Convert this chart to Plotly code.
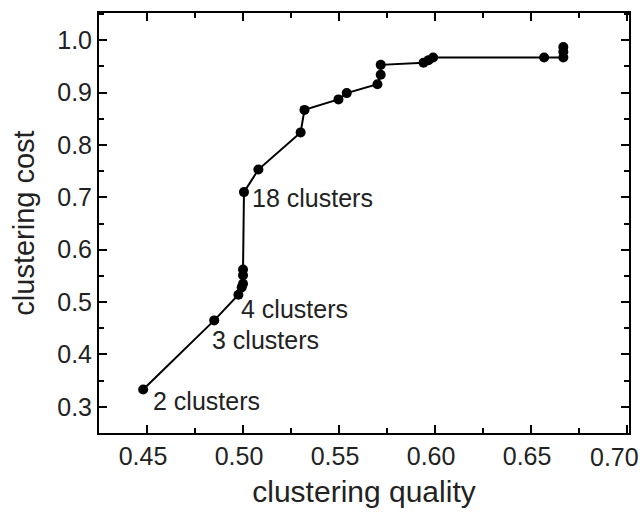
import plotly.graph_objects as go

quality = [0.448, 0.485, 0.4976, 0.4993, 0.500, 0.500, 0.500, 0.5005, 0.508, 0.530, 0.532,
           0.5497, 0.554, 0.570, 0.5717, 0.5717, 0.594, 0.5966, 0.599, 0.6568, 0.6668, 0.6668, 0.6668]
cost = [0.333, 0.465, 0.514, 0.528, 0.535, 0.551, 0.562, 0.710, 0.753, 0.824, 0.867,
        0.887, 0.899, 0.916, 0.934, 0.953, 0.957, 0.962, 0.967, 0.967, 0.967, 0.978, 0.987]

x_tick_vals = [0.45, 0.50, 0.55, 0.60, 0.65, 0.70]
x_tick_text = ["0.45", "0.50", "0.55", "0.60", "0.65", "0.70"]

labels = ["2 clusters", "3 clusters", "4 clusters", "18 clusters"]
label_idx = [0, 1, 2, 7]
label_shift = [(8, -11), (-4, -20), (1, -14), (6, -6)]

FONT = "Liberation Sans, Arial, sans-serif"
fig = go.Figure()
fig.add_trace(go.Scatter(x=quality, y=cost, mode="lines+markers",
                         line=dict(color="black", width=2),
                         marker=dict(color="black", size=10),
                         showlegend=False, hoverinfo="skip"))

for lab, i, (dx, dy) in zip(labels, label_idx, label_shift):
    fig.add_annotation(x=quality[i], y=cost[i], text=lab, showarrow=False,
                       xanchor="left", yanchor="middle", xshift=dx, yshift=dy,
                       font=dict(family=FONT, size=25, color="#222"))

# the last x tick label sits against the right edge of the figure, so it is
# drawn right-aligned at its tick so that it stays inside the picture
shown_text = x_tick_text[:-1] + [""]
fig.add_annotation(x=x_tick_vals[-1], xref="x", y=0, yref="paper", text=x_tick_text[-1],
                   showarrow=False, xanchor="right", yanchor="middle", xshift=14, yshift=-24,
                   font=dict(family=FONT, size=25, color="#222"))

axis_common = dict(showline=True, linecolor="black", linewidth=2, mirror="ticks",
                   ticks="inside", ticklen=8, tickwidth=2, tickcolor="black",
                   showgrid=False, zeroline=False,
                   tickfont=dict(family=FONT, size=25, color="#222"),
                   minor=dict(ticks="inside", ticklen=5, tickwidth=2, tickcolor="black", showgrid=False))

fig.update_xaxes(range=[0.425, 0.701], tickmode="array", tickvals=x_tick_vals, ticktext=shown_text,
                 minor_dtick=0.025, minor_tick0=0.425, ticklabelshift=-4,
                 title=dict(text="clustering quality", font=dict(family=FONT, size=30, color="#222"), standoff=12),
                 **axis_common)
fig.update_yaxes(range=[0.25, 1.052], tick0=0.3, dtick=0.1, tickformat=".1f",
                 minor_dtick=0.05,
                 title=dict(text="clustering cost", font=dict(family=FONT, size=29, color="#222"), standoff=14),
                 **axis_common)

fig.update_layout(width=643, height=512, margin=dict(l=99, r=14, t=13, b=79, autoexpand=False),
                  plot_bgcolor="white", paper_bgcolor="white")
fig.write_html("out.html", config={"displayModeBar": False},
               post_script="document.body.style.margin='0px';")
